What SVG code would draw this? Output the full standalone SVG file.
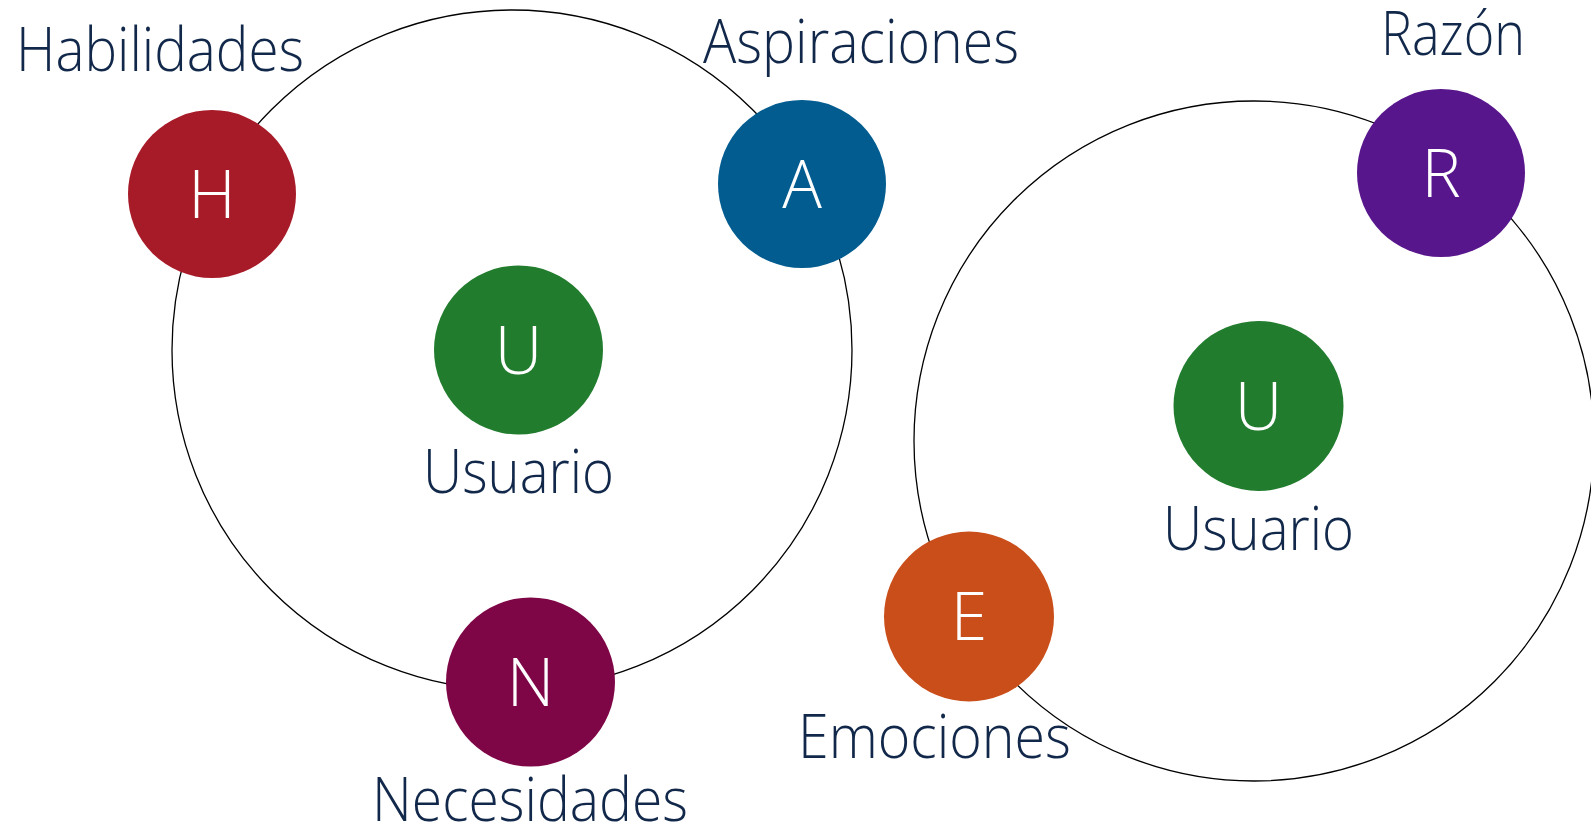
<svg xmlns="http://www.w3.org/2000/svg" width="1591" height="829" viewBox="0 0 1591 829">
<style>
.ring{fill:none;stroke:#000;stroke-width:1.3}
.lbl{font-family:"Open Sans","Liberation Sans",sans-serif;font-weight:300;font-size:60px;fill:#12284A}
.ltr{font-family:"Open Sans","Liberation Sans",sans-serif;font-weight:300;font-size:66px;fill:#fff;text-anchor:middle}
</style>
<rect width="1591" height="829" fill="#fff"/>
<g id="rings">
<circle class="ring" cx="512" cy="350" r="340"/>
<circle class="ring" cx="1254" cy="441" r="340"/>
</g>
<g id="node-H">
<circle cx="212" cy="194" r="84" fill="#A71A28"/>
<text class="ltr" x="212" y="218">H</text>
<text class="lbl" x="16" y="71" textLength="288" lengthAdjust="spacingAndGlyphs">Habilidades</text>
</g>
<g id="node-A">
<circle cx="802" cy="184" r="84" fill="#025C8F"/>
<text class="ltr" x="802" y="208">A</text>
<text class="lbl" x="703" y="63" textLength="316" lengthAdjust="spacingAndGlyphs">Aspiraciones</text>
</g>
<g id="node-U1">
<circle cx="518.5" cy="350" r="84.5" fill="#217C2E"/>
<text class="ltr" x="518.5" y="374">U</text>
<text class="lbl" x="423" y="493" textLength="191" lengthAdjust="spacingAndGlyphs">Usuario</text>
</g>
<g id="node-N">
<circle cx="530.5" cy="682" r="84.5" fill="#7E0647"/>
<text class="ltr" x="530.5" y="706">N</text>
<text class="lbl" x="372" y="821" textLength="316" lengthAdjust="spacingAndGlyphs">Necesidades</text>
</g>
<g id="node-R">
<circle cx="1441" cy="173" r="84" fill="#58168C"/>
<text class="ltr" x="1441" y="197">R</text>
<text class="lbl" x="1381" y="55" textLength="144" lengthAdjust="spacingAndGlyphs">Razón</text>
</g>
<g id="node-U2">
<circle cx="1258.5" cy="406" r="85" fill="#217C2E"/>
<text class="ltr" x="1258.5" y="430">U</text>
<text class="lbl" x="1163" y="550" textLength="191" lengthAdjust="spacingAndGlyphs">Usuario</text>
</g>
<g id="node-E">
<circle cx="969" cy="616.5" r="85" fill="#C94E19"/>
<text class="ltr" x="969" y="640">E</text>
<text class="lbl" x="798" y="758" textLength="273" lengthAdjust="spacingAndGlyphs">Emociones</text>
</g>
</svg>
